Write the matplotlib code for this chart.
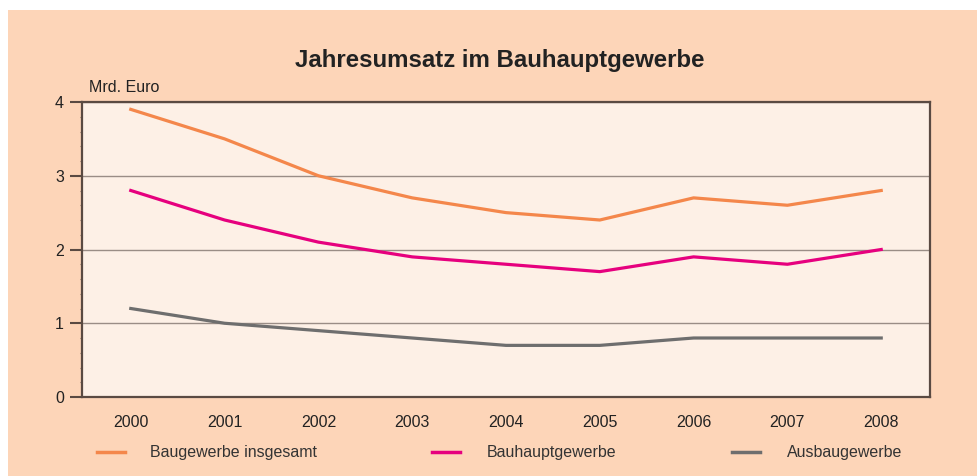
import matplotlib.pyplot as plt
from matplotlib.patches import Rectangle
from matplotlib.lines import Line2D

plt.rcParams["font.family"] = ["Liberation Sans", "DejaVu Sans"]

# Data
years = [2000, 2001, 2002, 2003, 2004, 2005, 2006, 2007, 2008]
baugewerbe = [3.9, 3.5, 3.0, 2.7, 2.5, 2.4, 2.7, 2.6, 2.8]
bauhaupt = [2.8, 2.4, 2.1, 1.9, 1.8, 1.7, 1.9, 1.8, 2.0]
ausbau = [1.2, 1.0, 0.9, 0.8, 0.7, 0.7, 0.8, 0.8, 0.8]
labels = ["Baugewerbe insgesamt", "Bauhauptgewerbe", "Ausbaugewerbe"]
colors = ["#F4874B", "#E6007E", "#6E6E6E"]

W, H = 978, 476
fig = plt.figure(figsize=(W / 100, H / 100), dpi=100)
fig.patch.set_facecolor("#FDD5B8")
# thin white margin on top and left
fig.patches.append(Rectangle((0, 1 - 10 / H), 1, 10 / H, transform=fig.transFigure,
                             facecolor="white", edgecolor="none"))
fig.patches.append(Rectangle((0, 0), 8 / W, 1, transform=fig.transFigure,
                             facecolor="white", edgecolor="none"))

ax = fig.add_axes([82 / W, 1 - 397 / H, (930 - 82) / W, (397 - 102) / H])
ax.set_facecolor("#FDF0E6")

for vals, lab, col in zip([baugewerbe, bauhaupt, ausbau], labels, colors):
    ax.plot(years, vals, color=col, lw=2.3, label=lab, zorder=3)

ax.set_xlim(1999.48, 2008.52)
ax.set_ylim(0, 4)
ax.set_xticks(years)
ax.set_yticks([0, 1, 2, 3, 4])
ax.set_yticks([i / 5 for i in range(21)], minor=True)
ax.grid(axis="y", which="major", color="#9a8d86", lw=1)
ax.set_axisbelow(True)

axis_col = "#5a4a42"
for side in ["left", "bottom", "top", "right"]:
    ax.spines[side].set_color(axis_col)
    ax.spines[side].set_linewidth(1.6)
ax.tick_params(axis="y", length=9, width=1.5, color=axis_col, labelsize=11.5,
               pad=4, labelcolor="#222222")
ax.tick_params(axis="y", which="minor", direction="out", length=1.2, width=0.8,
               color="#8a7066")
ax.tick_params(axis="x", length=0, labelsize=11.5, pad=13, labelcolor="#222222")

fig.text(500 / W, 1 - 61 / H, "Jahresumsatz im Bauhauptgewerbe", ha="center",
         va="center", fontsize=17.3, fontweight="bold", color="#222222")
fig.text(89 / W, 1 - 87 / H, "Mrd. Euro", ha="left", va="center",
         fontsize=11.5, color="#222222")

# legend spread across the bottom
leg_y = 1 - 452 / H
leg_x = [(97, 150), (432, 487), (732, 787)]
for (lx, tx), lab, col in zip(leg_x, labels, colors):
    fig.lines.append(Line2D([lx / W, (lx + 28) / W], [leg_y, leg_y],
                            transform=fig.transFigure, color=col, lw=2.5))
    fig.text(tx / W, leg_y, lab, ha="left", va="center", fontsize=11.5,
             color="#333333")

fig.savefig("out.png", dpi=100, facecolor=fig.get_facecolor())
